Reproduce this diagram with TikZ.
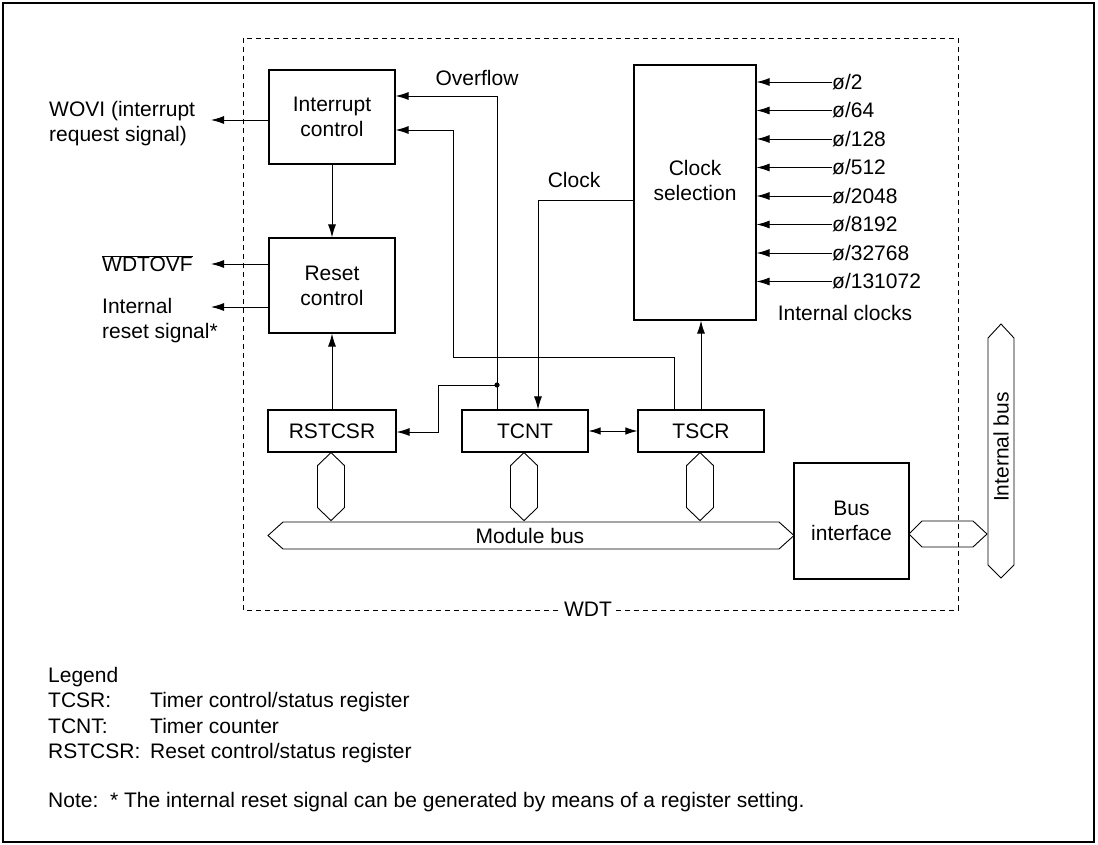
\documentclass[tikz,border=0pt]{standalone}
\usepackage{fontspec}
\setmainfont{Liberation Sans}
\usetikzlibrary{arrows.meta,calc}
\begin{document}
\begin{tikzpicture}[x=1pt,y=-1pt,
  font=\fontsize{21}{25}\selectfont,
  blk/.style={draw,line width=1.2pt,inner sep=0pt,align=center},
  arr/.style={line width=0.9pt,-{Latex[length=13pt,width=8pt]}},
  dbl/.style={line width=0.9pt,{Latex[length=12pt,width=7.5pt]}-{Latex[length=12pt,width=7.5pt]}},
  bus/.style={draw,line width=0.9pt},
  lbl/.style={inner sep=0pt,anchor=base west},
  txt/.style={inner sep=0pt,align=center},
]
\useasboundingbox (0,0) rectangle (1098,845);
\draw[line width=1.3pt] (3,3) rectangle (1094,842);
% WDT boundary
\draw[line width=0.9pt,dash pattern=on 5pt off 4pt] (243,38) rectangle (958,610);
\node[fill=white,inner xsep=4pt,inner ysep=1pt] (wdt) at (588,609) {WDT};

% blocks
\node[blk,minimum width=126pt,minimum height=94pt] (ic) at (332,117) {Interrupt\\control};
\node[blk,minimum width=126pt,minimum height=95pt] (rc) at (332,285.5) {Reset\\control};
\node[blk,minimum width=128pt,minimum height=42pt] (rst) at (332,431) {RSTCSR};
\node[blk,minimum width=126pt,minimum height=42pt] (tcnt) at (525,431) {TCNT};
\node[blk,minimum width=126pt,minimum height=42pt] (tscr) at (701,431) {TSCR};
\node[blk,minimum width=122pt,minimum height=255pt] (cs) at (695,192.5) {};
\node[txt] (cstext) at (695,180) {Clock\\selection};
\node[blk,minimum width=115pt,minimum height=116pt] (bi) at (851.5,521) {Bus\\interface};

% outside labels
\node[lbl] (wovi1) at (49,117) {WOVI (interrupt};
\node[lbl] (wovi2) at (49,142) {request signal)};
\node[lbl] (wdtovf) at (102,272) {$\overline{\hbox{WDTOVF}}$};
\node[lbl] (irs1) at (102,313) {Internal};
\node[lbl] (irs2) at (102,338) {reset signal*};
\node[txt] (ovl) at (477,78) {Overflow};
\node[txt] (ckl) at (574,180) {Clock};
\node[txt] (icl) at (845,313) {Internal clocks};

% signals out of the WDT
\coordinate (wo) at (211,120);
\coordinate (wd) at (211,264);
\coordinate (ir) at (211,307);
\draw[arr] (ic.west |- wo) -- (wo);
\draw[arr] (rc.west |- wd) -- (wd);
\draw[arr] (rc.west |- ir) -- (ir);

% internal connections
\draw[arr] (ic.south) -- (rc.north);
\draw[arr] (rst.north) -- (rc.south);
\coordinate (ov) at (497,96);
\draw[arr] (tcnt.north -| ov) |- (ic.east |- ov);
\coordinate (dot) at (497,385);
\fill (dot) circle (2.6pt);
\coordinate (rk) at (438,432);
\draw[arr] (dot) -| (rk) -- (rst.east |- rk);
\coordinate (t1) at (674,357);
\coordinate (t2) at (453,130);
\draw[arr] (tscr.north -| t1) -- (t1) -| (t2) -- (ic.east |- t2);
\coordinate (ck) at (538,200);
\draw[arr] (cs.west |- ck) -| (tcnt.north -| ck);
\draw[arr] (tscr.north) -- (tscr.north |- cs.south);
\draw[dbl] (tcnt.east) -- (tscr.west);

% internal clocks
\foreach \t [count=\i] in {2,64,128,512,2048,8192,32768,131072}{
  \pgfmathsetmacro{\yy}{82+28.5*(\i-1)}
  \node[inner sep=0pt,anchor=west] (c\i) at (832,\yy) {ø/\t};
  \draw[arr] (c\i.west) -- (cs.east |- c\i.west);
}

% buses
\draw[bus] (268,535.5) -- (283,522) -- (779,522) -- (794,535.5) -- (779,549) -- (283,549) -- cycle;
\node[txt] (mb) at (530,536) {Module bus};
\foreach \n in {rst,tcnt,tscr}{
  \draw[bus] ($(\n.south)+(-1,0)$) -- ++(13.5,13) -- ++(0,42) -- ++(-13.5,13) -- ++(-13.5,-13) -- ++(0,-42) -- cycle;
}
\draw[bus] (909,534) -- (922,521) -- (973,521) -- (987,534) -- (973,547) -- (922,547) -- cycle;
\draw[bus] (1001,324) -- (1014,338) -- (1014,565) -- (1001,578) -- (988,565) -- (988,338) -- cycle;
\node[txt,rotate=90] (ib) at (1001,447) {Internal bus};

% legend
\node[lbl] (lg) at (48,682) {Legend};
\node[lbl] (l1a) at (48,707.5) {TCSR:};
\node[lbl] (l1b) at (150,707.5) {Timer control/status register};
\node[lbl] (l2a) at (48,733) {TCNT:};
\node[lbl] (l2b) at (150,733) {Timer counter};
\node[lbl] (l3a) at (48,758.5) {RSTCSR:};
\node[lbl] (l3b) at (150,758.5) {Reset control/status register};
\node[lbl] (note) at (48,807) {Note:\ \ * The internal reset signal can be generated by means of a register setting.};
\end{tikzpicture}
\end{document}
